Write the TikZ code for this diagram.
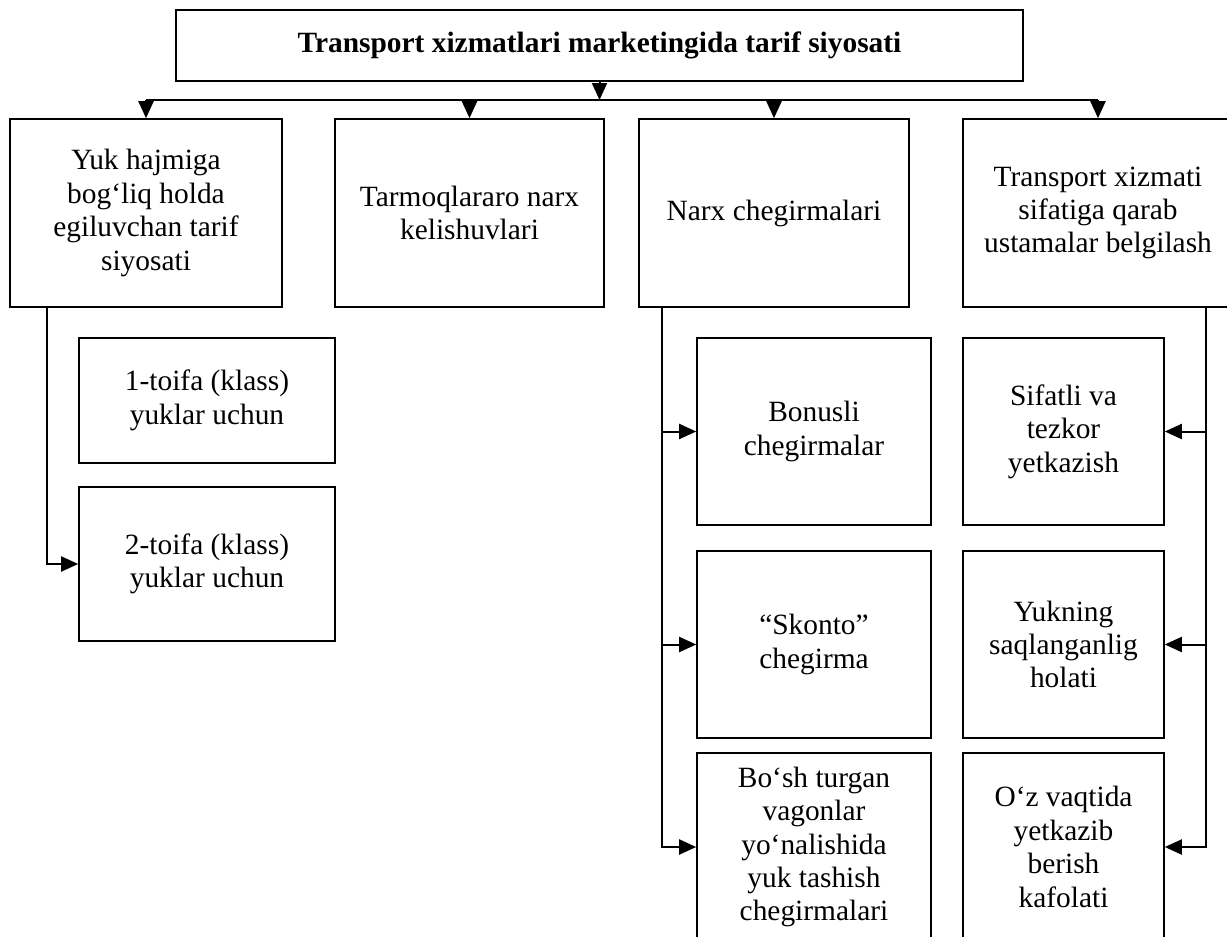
\documentclass[tikz,border=0pt]{standalone}
\usepackage{fontspec}
\setmainfont{Liberation Serif}
\usetikzlibrary{arrows.meta}

\begin{document}
\begin{tikzpicture}
    [
      x=0.5pt,y=-0.5pt,
      box/.style={draw,line width=0.8pt,rectangle,align=center,inner sep=0pt,
        font=\fontsize{14.7}{16.7}\selectfont},
      wire/.style={line width=1pt},
      link/.style={-{Triangle[length=8.5pt,width=7.5pt]},line width=1pt}
    ]
    \clip (0,0) rectangle (1227,937);

    \node at (599.5,45.5) [box,minimum width=423.5pt,minimum height=35.5pt,
      font=\fontsize{14.7}{16.7}\selectfont\bfseries] (title)
      {Transport xizmatlari marketingida tarif siyosati};

    \node at (146,213) [box,minimum width=136pt,minimum height=94pt] (hajm)
      {Yuk hajmiga\\bog‘liq holda\\egiluvchan tarif\\siyosati};
    \node at (469.5,213) [box,minimum width=134.5pt,minimum height=94pt] (tarmoq)
      {Tarmoqlararo narx\\kelishuvlari};
    \node at (774,213) [box,minimum width=135pt,minimum height=94pt] (narx)
      {Narx chegirmalari};
    \node at (1098,213) [box,minimum width=135pt,minimum height=94pt] (sifat)
      {Transport xizmati\\sifatiga qarab\\ustamalar belgilash};

    \node at (207,400.5) [box,minimum width=128pt,minimum height=62.5pt] (toifa1)
      {1-toifa (klass)\\yuklar uchun};
    \node at (207,564) [box,minimum width=128pt,minimum height=77pt] (toifa2)
      {2-toifa (klass)\\yuklar uchun};

    \node at (814,431.5) [box,minimum width=117pt,minimum height=93.5pt] (bonus)
      {Bonusli\\chegirmalar};
    \node at (814,644.5) [box,minimum width=117pt,minimum height=93.5pt] (skonto)
      {“Skonto”\\chegirma};
    \node at (814,847) [box,minimum width=117pt,minimum height=94pt] (bosh)
      {Bo‘sh turgan\\vagonlar\\yo‘nalishida\\yuk tashish\\chegirmalari};

    \node at (1063.5,431.5) [box,minimum width=100.5pt,minimum height=93.5pt] (tezkor)
      {Sifatli va\\tezkor\\yetkazish};
    \node at (1063.5,644.5) [box,minimum width=100.5pt,minimum height=93.5pt] (saqlash)
      {Yukning\\saqlanganlig\\holati};
    \node at (1063.5,847) [box,minimum width=100.5pt,minimum height=94pt] (vaqt)
      {O‘z vaqtida\\yetkazib\\berish\\kafolati};

    % top distribution
    \coordinate (hub) at (600,100);
    \draw [link] (title) -- (title |- hub);
    \draw [wire] (hajm |- hub) -- (sifat |- hub);
    \foreach \n in {hajm,tarmoq,narx,sifat}
      \draw [link] (\n |- hub) -- (\n);

    % side branches
    \coordinate (lx) at (47,307);
    \coordinate (nx) at (662,307);
    \coordinate (rx) at (1206,307);
    \draw [link] (lx) |- (toifa2);
    \foreach \n in {bonus,skonto,bosh}
      \draw [link] (nx) |- (\n);
    \foreach \n in {tezkor,saqlash,vaqt}
      \draw [link] (rx) |- (\n);
  \end{tikzpicture}
\end{document}
